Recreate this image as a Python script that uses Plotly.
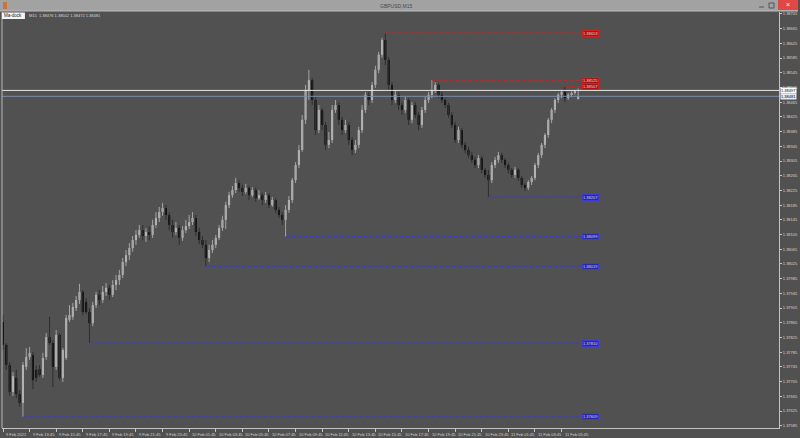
import plotly.graph_objects as go

# ---------------- data (GBPUSD M15) ----------------
open_ = [1.37867,1.37805,1.37750,1.37677,1.37715,1.37671,1.37647,1.37745,1.37772,1.37777,
         1.37737,1.37739,1.37723,1.37772,1.37826,1.37810,1.37745,1.37832,1.37715,1.37769,
         1.37873,1.37881,1.37905,1.37927,1.37949,1.37922,1.37894,1.37864,1.37913,1.37941,
         1.37927,1.37949,1.37960,1.37941,1.37968,1.37981,1.37995,1.38030,1.38049,1.38068,
         1.38090,1.38104,1.38117,1.38101,1.38112,1.38104,1.38131,1.38150,1.38166,1.38177,
         1.38158,1.38131,1.38112,1.38123,1.38096,1.38117,1.38128,1.38139,1.38150,1.38112,
         1.38090,1.38077,1.38041,1.38063,1.38077,1.38096,1.38123,1.38145,1.38185,1.38212,
         1.38226,1.38245,1.38232,1.38221,1.38232,1.38212,1.38226,1.38204,1.38212,1.38199,
         1.38212,1.38185,1.38199,1.38172,1.38158,1.38145,1.38172,1.38199,1.38253,1.38294,
         1.38335,1.38417,1.38498,1.38525,1.38471,1.38389,1.38444,1.38403,1.38349,1.38362,
         1.38444,1.38457,1.38417,1.38389,1.38403,1.38362,1.38335,1.38349,1.38389,1.38444,
         1.38485,1.38471,1.38512,1.38553,1.38594,1.38634,1.38580,1.38512,1.38471,1.38485,
         1.38457,1.38444,1.38471,1.38417,1.38457,1.38430,1.38403,1.38444,1.38471,1.38485,
         1.38498,1.38512,1.38485,1.38471,1.38457,1.38430,1.38403,1.38362,1.38389,1.38349,
         1.38335,1.38321,1.38308,1.38294,1.38313,1.38281,1.38267,1.38253,1.38294,1.38308,
         1.38321,1.38308,1.38294,1.38281,1.38267,1.38281,1.38259,1.38240,1.38232,1.38248,
         1.38259,1.38294,1.38321,1.38349,1.38376,1.38417,1.38444,1.38471,1.38485,1.38493,
         1.38476,1.38485,1.38490,1.38476]
high_ = [1.37886,1.37810,1.37758,1.37731,1.37737,1.37682,1.37758,1.37796,1.37799,1.37786,
         1.37748,1.37750,1.37783,1.37837,1.37881,1.37818,1.37845,1.37837,1.37796,1.37886,
         1.37913,1.37919,1.37938,1.37971,1.37954,1.37932,1.37905,1.37922,1.37949,1.37954,
         1.37965,1.37973,1.37968,1.37981,1.37995,1.38009,1.38041,1.38063,1.38082,1.38101,
         1.38117,1.38131,1.38131,1.38122,1.38128,1.38145,1.38166,1.38180,1.38191,1.38185,
         1.38166,1.38145,1.38139,1.38131,1.38128,1.38145,1.38158,1.38166,1.38158,1.38123,
         1.38101,1.38090,1.38077,1.38090,1.38104,1.38131,1.38156,1.38194,1.38221,1.38237,
         1.38259,1.38253,1.38240,1.38243,1.38237,1.38234,1.38232,1.38226,1.38218,1.38221,
         1.38218,1.38207,1.38204,1.38180,1.38166,1.38185,1.38210,1.38259,1.38302,1.38349,
         1.38430,1.38512,1.38553,1.38531,1.38479,1.38457,1.38449,1.38411,1.38384,1.38457,
         1.38471,1.38465,1.38425,1.38417,1.38411,1.38370,1.38362,1.38398,1.38457,1.38493,
         1.38493,1.38520,1.38564,1.38602,1.38640,1.38653,1.38588,1.38520,1.38498,1.38493,
         1.38465,1.38479,1.38476,1.38465,1.38465,1.38438,1.38452,1.38479,1.38493,1.38525,
         1.38520,1.38517,1.38493,1.38476,1.38463,1.38438,1.38411,1.38398,1.38395,1.38357,
         1.38343,1.38330,1.38316,1.38321,1.38319,1.38286,1.38281,1.38302,1.38316,1.38330,
         1.38327,1.38313,1.38300,1.38286,1.38289,1.38286,1.38264,1.38245,1.38253,1.38264,
         1.38300,1.38327,1.38354,1.38381,1.38422,1.38449,1.38476,1.38490,1.38498,1.38507,
         1.38490,1.38495,1.38498,1.38502]
low_ = [1.37791,1.37737,1.37666,1.37666,1.37660,1.37636,1.37609,1.37737,1.37764,1.37685,
        1.37704,1.37718,1.37715,1.37764,1.37805,1.37690,1.37737,1.37709,1.37704,1.37764,
        1.37867,1.37873,1.37897,1.37916,1.37886,1.37889,1.37810,1.37856,1.37905,1.37913,
        1.37919,1.37938,1.37927,1.37935,1.37954,1.37968,1.37987,1.38019,1.38036,1.38058,
        1.38077,1.38096,1.38090,1.38085,1.38090,1.38096,1.38123,1.38139,1.38156,1.38145,
        1.38117,1.38096,1.38104,1.38077,1.38088,1.38109,1.38120,1.38131,1.38101,1.38079,
        1.38068,1.38019,1.38030,1.38055,1.38068,1.38090,1.38115,1.38120,1.38177,1.38205,
        1.38218,1.38221,1.38210,1.38215,1.38199,1.38207,1.38194,1.38199,1.38185,1.38191,
        1.38177,1.38180,1.38164,1.38150,1.38131,1.38099,1.38164,1.38191,1.38245,1.38286,
        1.38330,1.38406,1.38471,1.38457,1.38376,1.38381,1.38389,1.38335,1.38340,1.38354,
        1.38436,1.38403,1.38376,1.38381,1.38349,1.38321,1.38327,1.38340,1.38381,1.38436,
        1.38457,1.38463,1.38504,1.38544,1.38586,1.38566,1.38498,1.38457,1.38463,1.38444,
        1.38430,1.38436,1.38403,1.38408,1.38422,1.38389,1.38395,1.38436,1.38463,1.38476,
        1.38490,1.38476,1.38463,1.38449,1.38422,1.38395,1.38354,1.38354,1.38340,1.38327,
        1.38313,1.38300,1.38286,1.38286,1.38272,1.38259,1.38207,1.38245,1.38286,1.38300,
        1.38300,1.38286,1.38272,1.38259,1.38259,1.38251,1.38232,1.38224,1.38226,1.38240,
        1.38253,1.38286,1.38313,1.38340,1.38368,1.38408,1.38436,1.38463,1.38476,1.38465,
        1.38471,1.38479,1.38485,1.38472]
close_ = [1.37805,1.37750,1.37677,1.37720,1.37671,1.37647,1.37750,1.37772,1.37783,1.37709,
          1.37715,1.37723,1.37769,1.37826,1.37810,1.37745,1.37832,1.37715,1.37791,1.37878,
          1.37886,1.37908,1.37927,1.37949,1.37894,1.37894,1.37864,1.37913,1.37941,1.37927,
          1.37949,1.37960,1.37941,1.37968,1.37981,1.37995,1.38030,1.38049,1.38068,1.38090,
          1.38104,1.38117,1.38101,1.38112,1.38104,1.38131,1.38150,1.38166,1.38177,1.38158,
          1.38131,1.38112,1.38123,1.38096,1.38117,1.38128,1.38139,1.38150,1.38112,1.38090,
          1.38077,1.38041,1.38063,1.38077,1.38096,1.38123,1.38145,1.38185,1.38212,1.38226,
          1.38245,1.38232,1.38221,1.38232,1.38212,1.38226,1.38204,1.38212,1.38199,1.38212,
          1.38185,1.38199,1.38172,1.38158,1.38145,1.38172,1.38199,1.38253,1.38294,1.38335,
          1.38417,1.38498,1.38525,1.38471,1.38389,1.38444,1.38403,1.38349,1.38362,1.38444,
          1.38457,1.38417,1.38389,1.38403,1.38362,1.38335,1.38349,1.38389,1.38444,1.38485,
          1.38471,1.38512,1.38553,1.38594,1.38634,1.38580,1.38512,1.38471,1.38485,1.38457,
          1.38444,1.38471,1.38417,1.38457,1.38430,1.38403,1.38444,1.38471,1.38485,1.38498,
          1.38512,1.38485,1.38471,1.38457,1.38430,1.38403,1.38362,1.38389,1.38349,1.38335,
          1.38321,1.38308,1.38294,1.38313,1.38281,1.38267,1.38253,1.38294,1.38308,1.38321,
          1.38308,1.38294,1.38281,1.38267,1.38281,1.38259,1.38240,1.38232,1.38248,1.38259,
          1.38294,1.38321,1.38349,1.38376,1.38417,1.38444,1.38471,1.38485,1.38493,1.38476,
          1.38485,1.38490,1.38493,1.38481]

x_tick_idx = [0, 8, 16, 24, 32, 40, 48, 56, 64, 72, 80, 88, 96, 104, 112, 120, 128, 136, 144, 152, 160, 168]
x_tick_labels = ["9 Feb 2021", "9 Feb 13:45", "9 Feb 15:45", "9 Feb 17:45", "9 Feb 19:45", "9 Feb 21:45",
                 "9 Feb 23:45", "10 Feb 01:45", "10 Feb 03:45", "10 Feb 05:45", "10 Feb 07:45",
                 "10 Feb 09:45", "10 Feb 11:45", "10 Feb 13:45", "10 Feb 15:45", "10 Feb 17:45",
                 "10 Feb 19:45", "10 Feb 21:45", "10 Feb 23:45", "11 Feb 01:45", "11 Feb 03:45",
                 "11 Feb 05:45"]
y_ticks = [1.37585, 1.37625, 1.37665, 1.37705, 1.37745, 1.37785, 1.37825, 1.37865, 1.37905, 1.37945,
           1.37985, 1.38025, 1.38065, 1.38105, 1.38145, 1.38185, 1.38225, 1.38265, 1.38305, 1.38345,
           1.38385, 1.38425, 1.38465, 1.38505, 1.38545, 1.38585, 1.38625, 1.38665, 1.38705]

level_prices = [1.38653, 1.38525, 1.38507, 1.38207, 1.38099, 1.38019, 1.37810, 1.37609]
level_start = [115, 129, 169, 146, 85, 61, 26, 6]
level_kind = ["high", "high", "high", "low", "low", "low", "low", "low"]
level_label_at = 174

ask_price = 1.38497
bid_price = 1.38481
header_text = "M15  1.38476 1.38502 1.38472 1.38481"
title = "GBPUSD,M15"

# ---------------- layout geometry ----------------
W, H = 800, 438
ML, MR, MT, MB = 2, 19, 12, 10
PW, PH = W - ML - MR, H - MT - MB


def px(x):
    return (x - ML) / PW


def py(y):
    return (H - MB - y) / PH


FONT = "Liberation Sans, Arial, sans-serif"
BG = "#515151"

n = len(close_)
idx = list(range(n))
bull = [c >= o for o, c in zip(open_, close_)]

fig = go.Figure()

# wicks
for is_bull, col in [(True, "#a4a4a4"), (False, "#2e2e2e")]:
    xs, ys = [], []
    for i in idx:
        if bull[i] == is_bull:
            xs += [i, i, None]
            ys += [low_[i], high_[i], None]
    fig.add_trace(go.Scatter(x=xs, y=ys, mode="lines", line=dict(color=col, width=1),
                             hoverinfo="skip", showlegend=False))

# bodies
for is_bull, col in [(True, "#c0c0c0"), (False, "#000000")]:
    sel = [i for i in idx if bull[i] == is_bull]
    fig.add_trace(go.Bar(
        x=sel,
        base=[min(open_[i], close_[i]) for i in sel],
        y=[max(abs(close_[i] - open_[i]), 0.00002) for i in sel],
        width=0.62,
        marker=dict(color=col, line=dict(width=0)),
        hoverinfo="skip", showlegend=False))

shapes = []
annotations = []

# swing levels
for p, s, kind in zip(level_prices, level_start, level_kind):
    col = "#d42020" if kind == "high" else "#3b3bd8"
    fill = "#a01818" if kind == "high" else "#2a2aa0"
    shapes.append(dict(type="line", xref="x", yref="y", x0=s, x1=level_label_at, y0=p, y1=p,
                       line=dict(color=col, width=1, dash="4px,2px")))
    annotations.append(dict(xref="x", yref="y", x=level_label_at, y=p, xanchor="left", yanchor="middle",
                            text=f"{p:.5f}", showarrow=False, bgcolor=fill, bordercolor=col,
                            borderwidth=1, borderpad=0,
                            font=dict(family=FONT, size=4, color="#f0d0d0" if kind == "high" else "#d0d0ff")))

# ask / bid lines
shapes.append(dict(type="line", xref="paper", yref="y", x0=0, x1=1, y0=ask_price, y1=ask_price,
                   line=dict(color="#e8e8e8", width=1)))
shapes.append(dict(type="line", xref="paper", yref="y", x0=0, x1=1, y0=bid_price, y1=bid_price,
                   line=dict(color="#7d8ca8", width=1)))
annotations.append(dict(xref="paper", yref="y", x=1, y=ask_price, xanchor="left", yanchor="middle",
                        xshift=1, text=f"{ask_price:.5f}", showarrow=False, bgcolor="#ffffff",
                        borderpad=0, font=dict(family=FONT, size=4, color="#000000")))
annotations.append(dict(xref="paper", yref="y", x=1, y=bid_price, xanchor="left", yanchor="middle",
                        xshift=1, text=f"{bid_price:.5f}", showarrow=False, bgcolor="#e6eaf2",
                        borderpad=0, font=dict(family=FONT, size=4, color="#000000")))

# x-axis labels (left aligned at tick, MT4 style)
for i, lab in zip(x_tick_idx, x_tick_labels):
    annotations.append(dict(xref="x", yref="paper", x=i, y=0, xanchor="left", yanchor="top",
                            xshift=1, yshift=-1.5, text=lab, showarrow=False,
                            font=dict(family=FONT, size=4, color="#d4d4d4")))

# window chrome
shapes.append(dict(type="rect", xref="paper", yref="paper", x0=px(0), x1=px(W), y0=py(11), y1=py(0),
                   fillcolor="#a2a2a2", line=dict(width=0), layer="above"))
shapes.append(dict(type="line", xref="paper", yref="paper", x0=px(0), x1=px(W), y0=py(11), y1=py(11),
                   line=dict(color="#bdbdbd", width=1), layer="above"))
shapes.append(dict(type="rect", xref="paper", yref="paper", x0=px(780), x1=px(800), y0=py(10), y1=py(0),
                   fillcolor="#e04848", line=dict(width=0), layer="above"))
shapes.append(dict(type="line", xref="paper", yref="paper", x0=px(761), x1=px(766), y0=py(7), y1=py(7),
                   line=dict(color="#555555", width=1), layer="above"))
shapes.append(dict(type="rect", xref="paper", yref="paper", x0=px(771), x1=px(776), y0=py(8), y1=py(3),
                   fillcolor="rgba(0,0,0,0)", line=dict(color="#555555", width=1), layer="above"))
shapes.append(dict(type="rect", xref="paper", yref="paper", x0=px(3), x1=px(7), y0=py(9), y1=py(2),
                   fillcolor="#c8743c", line=dict(width=0), layer="above"))
# left border line of chart
shapes.append(dict(type="line", xref="paper", yref="paper", x0=0, x1=0, y0=0, y1=1,
                   line=dict(color="#b8b8b8", width=1)))
# Ma-dock box
shapes.append(dict(type="rect", xref="paper", yref="paper", x0=px(2), x1=px(25), y0=py(19), y1=py(12.5),
                   fillcolor="#f4f4f4", line=dict(width=0), layer="above"))

annotations.append(dict(xref="paper", yref="paper", x=px(397), y=py(5.8), xanchor="center", yanchor="middle",
                        text=title, showarrow=False, font=dict(family=FONT, size=5, color="#4a4a4a")))
annotations.append(dict(xref="paper", yref="paper", x=px(790), y=py(5), xanchor="center", yanchor="middle",
                        text="×", showarrow=False, font=dict(family=FONT, size=7, color="#ffffff")))
annotations.append(dict(xref="paper", yref="paper", x=px(13.5), y=py(15.8), xanchor="center", yanchor="middle",
                        text="Ma-dock", showarrow=False, font=dict(family=FONT, size=4.5, color="#202020")))
annotations.append(dict(xref="paper", yref="paper", x=px(27), y=py(15.8), xanchor="left", yanchor="middle",
                        text=header_text, showarrow=False, font=dict(family=FONT, size=4, color="#d8d8d8")))

fig.update_layout(
    width=W, height=H,
    margin=dict(l=ML, r=MR, t=MT, b=MB, pad=0),
    paper_bgcolor=BG, plot_bgcolor=BG,
    barmode="overlay",
    showlegend=False,
    shapes=shapes,
    annotations=annotations,
    xaxis=dict(range=[-0.3, 233.4], showgrid=False, zeroline=False, showline=True,
               linecolor="#c4c4c4", linewidth=1, ticks="outside", ticklen=3, tickcolor="#c4c4c4",
               tickvals=x_tick_idx, showticklabels=False, fixedrange=True),
    yaxis=dict(side="right", range=[1.375788, 1.387103], showgrid=False, zeroline=False,
               showline=True, linecolor="#c4c4c4", linewidth=1, ticks="outside", ticklen=2,
               tickcolor="#c4c4c4", tickvals=y_ticks, ticktext=[f"{v:.5f}" for v in y_ticks],
               tickfont=dict(family=FONT, size=4, color="#d4d4d4"), fixedrange=True),
)

fig.write_html("out.html", config={"displayModeBar": False},
               post_script="document.body.style.margin='0';document.body.style.overflow='hidden';"
                           "document.body.style.background='" + BG + "';")
